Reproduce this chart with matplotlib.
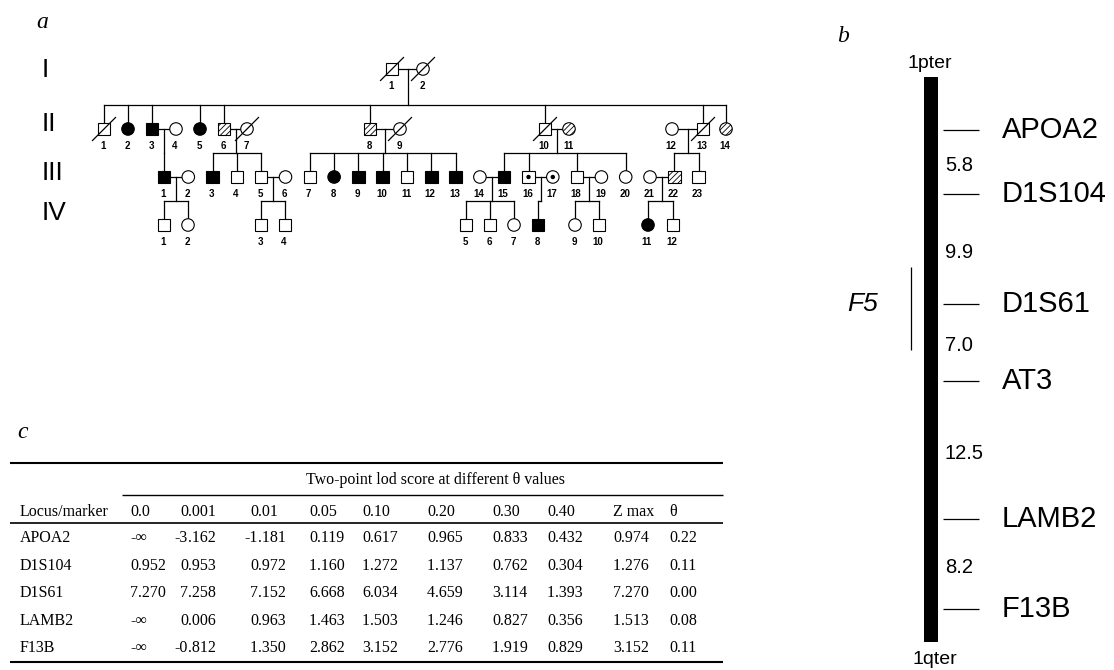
import matplotlib
matplotlib.use("Agg")
import matplotlib.pyplot as plt
from matplotlib.patches import Rectangle, Circle
import numpy as np

# ------------------------------------------------------------------ data
generation_names = ["I", "II", "III", "IV"]

gen1_sex = ["M", "F"]
gen1_status = ["normal", "normal"]
gen1_dead = [True, True]

gen2_sex = ["M", "F", "M", "F", "F", "M", "F", "M", "F", "M", "F", "F", "M", "F"]
gen2_status = ["normal", "affected", "affected", "normal", "affected", "carrier", "normal",
               "carrier", "normal", "normal", "carrier", "normal", "normal", "carrier"]
gen2_dead = [True, False, False, False, False, False, True, False, True, True, False, False, True, False]

gen3_sex = ["M", "F", "M", "M", "M", "F", "M", "F", "M", "M", "M", "M", "M", "F", "M",
            "M", "F", "M", "F", "F", "F", "M", "M"]
gen3_status = ["affected", "normal", "affected", "normal", "normal", "normal", "normal",
               "affected", "affected", "affected", "normal", "affected", "affected", "normal",
               "affected", "dot", "dot", "normal", "normal", "normal", "normal", "carrier", "normal"]
gen3_dead = [False] * 23

gen4_sex = ["M", "F", "M", "M", "M", "M", "F", "M", "F", "M", "F", "M"]
gen4_status = ["normal", "normal", "normal", "normal", "normal", "normal", "normal",
               "affected", "normal", "normal", "affected", "normal"]
gen4_dead = [False] * 12

# matings: (parent generation index, partner A number, partner B number, children numbers)
matings = [
    (0, 1, 2, [1, 2, 3, 5, 6, 8, 10, 13, 14]),
    (1, 3, 4, [1]),
    (1, 6, 7, [3, 4, 5]),
    (1, 8, 9, [7, 8, 9, 10, 11, 12, 13]),
    (1, 10, 11, [15, 16, 18, 20]),
    (1, 12, 13, [22, 23]),
    (2, 1, 2, [1, 2]),
    (2, 5, 6, [3, 4]),
    (2, 14, 15, [5, 6, 7]),
    (2, 16, 17, [8]),
    (2, 18, 19, [9, 10]),
    (2, 21, 22, [11, 12]),
]

# chromosome 1 map (panel b)
markers = ["APOA2", "D1S104", "D1S61", "AT3", "LAMB2", "F13B"]
intervals_cM = [5.8, 9.9, 7.0, 12.5, 8.2]
f5_span_cM = (12.4, 19.9)

# lod score table (panel c)
loci = ["APOA2", "D1S104", "D1S61", "LAMB2", "F13B"]
theta_values = ["0.0", "0.001", "0.01", "0.05", "0.10", "0.20", "0.30", "0.40"]
lod_apoa2 = [-np.inf, -3.162, -1.181, 0.119, 0.617, 0.965, 0.833, 0.432]
lod_d1s104 = [0.952, 0.953, 0.972, 1.160, 1.272, 1.137, 0.762, 0.304]
lod_d1s61 = [7.270, 7.258, 7.152, 6.668, 6.034, 4.659, 3.114, 1.393]
lod_lamb2 = [-np.inf, 0.006, 0.963, 1.463, 1.503, 1.246, 0.827, 0.356]
lod_f13b = [-np.inf, -0.812, 1.350, 2.862, 3.152, 2.776, 1.919, 0.829]
z_max = [0.974, 1.276, 7.270, 1.513, 3.152]
theta_max = [0.22, 0.11, 0.00, 0.08, 0.11]

# ------------------------------------------------------------------ layout
W, H = 1114, 670
gen_y = [69, 129, 177, 225]
gen_label_y = [70, 124, 173, 213]
gen1_x = [392, 423]
gen2_x = [104, 128, 152, 176, 200, 224, 247, 370, 400, 545, 569, 672, 703, 726]
gen3_x = list(164 + 24.3 * np.arange(23))
gen4_x = [164, 188, 261, 285, 466, 490, 514, 538, 575, 599, 648, 673]
SYM = 12.5

gens = [
    (gen1_sex, gen1_status, gen1_dead, gen1_x),
    (gen2_sex, gen2_status, gen2_dead, gen2_x),
    (gen3_sex, gen3_status, gen3_dead, gen3_x),
    (gen4_sex, gen4_status, gen4_dead, gen4_x),
]

plt.rcParams['hatch.color'] = 'black'
plt.rcParams['hatch.linewidth'] = 0.6

fig = plt.figure(figsize=(W / 100, H / 100), dpi=100)
ax = fig.add_axes([0, 0, 1, 1])
ax.set_xlim(0, W)
ax.set_ylim(H, 0)
ax.axis('off')

LW = 0.9
serif = ['Liberation Serif', 'DejaVu Serif']
sans = ['Liberation Sans', 'DejaVu Sans']

# ---------------- panel a: pedigree
ax.text(36, 22, "a", fontsize=17, fontstyle='italic', family=serif, va='center', ha='left')
for gname, gy in zip(generation_names, gen_label_y):
    ax.text(42, gy, gname, fontsize=19, family=sans, va='center', ha='left')

for gi, (sexes, stats, dead, xs) in enumerate(gens):
    y = gen_y[gi]
    for i, (sx, st, dd) in enumerate(zip(sexes, stats, dead)):
        x = xs[i]
        fc = 'black' if st == 'affected' else 'white'
        hatch = '//////' if st == 'carrier' else None
        if sx == 'M':
            p = Rectangle((x - SYM / 2, y - SYM / 2), SYM, SYM, facecolor=fc,
                          edgecolor='black', lw=0.8, hatch=hatch, zorder=3)
        else:
            p = Circle((x, y), SYM / 2, facecolor=fc, edgecolor='black', lw=0.8,
                       hatch=hatch, zorder=3)
        ax.add_patch(p)
        if st == 'dot':
            ax.add_patch(Circle((x, y), 1.5, color='black', zorder=4))
        if dd:
            ax.plot([x - 11.5, x + 11.5], [y + 11.5, y - 11.5], color='black', lw=LW, zorder=4)
        ax.text(x - 1, y + 17, str(i + 1), fontsize=7, fontweight='bold',
                family=sans, ha='center', va='center')

for (g, a, b, kids) in matings:
    sexes, stats, dead, xs = gens[g]
    xa, xb = xs[a - 1], xs[b - 1]
    y = gen_y[g]
    ax.plot([min(xa, xb) + SYM / 2, max(xa, xb) - SYM / 2], [y, y], color='black', lw=LW, zorder=2)
    mid = (xa + xb) / 2
    cx = [gens[g + 1][3][k - 1] for k in kids]
    cy = gen_y[g + 1]
    sib_y = cy - 24
    ax.plot([mid, mid], [y, sib_y], color='black', lw=LW, zorder=2)
    ax.plot([min(cx + [mid]), max(cx + [mid])], [sib_y, sib_y], color='black', lw=LW, zorder=2)
    for x in cx:
        ax.plot([x, x], [sib_y, cy - SYM / 2], color='black', lw=LW, zorder=2)

# ---------------- panel b: chromosome map
marker_cM = np.concatenate([[0], np.cumsum(intervals_cM)])
PX0, PXS = 130.3, 11.035          # pixel position of 0 cM and pixels per cM
bar_top, bar_bot = 77, 642
cm_top = (bar_top - PX0) / PXS
cm_bot = (bar_bot - PX0) / PXS
axc = fig.add_axes([0, 1 - bar_bot / H, 1, (bar_bot - bar_top) / H])
axc.set_xlim(0, W)
axc.set_ylim(cm_bot, cm_top)
axc.axis('off')
axc.add_patch(Rectangle((924, cm_top), 14, cm_bot - cm_top, facecolor='black', edgecolor='none'))
axc.hlines(marker_cM, 943, 979, color='black', lw=0.9)
for name, c in zip(markers, marker_cM):
    axc.text(1002, c, name, fontsize=21, family=sans, va='center', ha='left')
mids = (marker_cM[:-1] + marker_cM[1:]) / 2
for d, m in zip(intervals_cM, mids):
    axc.text(945, m + 0.3, f"{d:.1f}", fontsize=14.5, family=sans, va='center', ha='left')
axc.vlines(911, f5_span_cM[0], f5_span_cM[1], color='black', lw=0.9)
axc.text(863, marker_cM[2], "F5", fontsize=19, fontstyle='italic', family=sans,
         va='center', ha='center')

ax.text(843, 36, "b", fontsize=17, fontstyle='italic', family=serif, va='center', ha='center')
ax.text(930, 63, "1pter", fontsize=14, family=sans, va='center', ha='center')
ax.text(935, 660, "1qter", fontsize=14, family=sans, va='center', ha='center')

# ---------------- panel c: table
ax.text(17, 433, "c", fontsize=17, fontstyle='italic', family=serif, va='center', ha='left')
tx0, tx1 = 10, 723
ax.hlines(463, tx0, tx1, color='black', lw=1.5)
ax.hlines(495, 122, tx1, color='black', lw=1.0)
ax.hlines(523, tx0, tx1, color='black', lw=1.2)
ax.hlines(662, tx0, tx1, color='black', lw=1.5)
TFS = 11.5
ax.text(436, 480, "Two-point lod score at different \u03b8 values", fontsize=TFS,
        family=serif, ha='center', va='center')
col_x = [130, 180, 250, 309, 362, 427, 492, 547, 613, 669]
headers = theta_values + ["Z max", "\u03b8"]
ax.text(20, 512, "Locus/marker", fontsize=TFS, family=serif, ha='left', va='center')
for hx, h in zip(col_x, headers):
    ax.text(hx, 512, h, fontsize=TFS, family=serif, ha='left', va='center')

row_y = [538, 566, 593, 621, 648]
rows = [lod_apoa2, lod_d1s104, lod_d1s61, lod_lamb2, lod_f13b]
DIG = 8.0


def put_num(x, y, s):
    if s == "-\u221e":
        ax.text(x, y, s, fontsize=TFS, family=serif, ha='left', va='center')
        return
    ip, fp = s.split('.')
    ax.text(x + DIG, y, ip, fontsize=TFS, family=serif, ha='right', va='center')
    ax.text(x + DIG, y, '.' + fp, fontsize=TFS, family=serif, ha='left', va='center')


for r, (name, vals) in enumerate(zip(loci, rows)):
    y = row_y[r]
    ax.text(20, y, name, fontsize=TFS, family=serif, ha='left', va='center')
    for c, v in enumerate(vals):
        s = "-\u221e" if np.isinf(v) else f"{v:.3f}"
        put_num(col_x[c], y, s)
    put_num(col_x[8], y, f"{z_max[r]:.3f}")
    put_num(col_x[9], y, f"{theta_max[r]:.2f}")

fig.savefig("out.png", dpi=100, facecolor='white')
